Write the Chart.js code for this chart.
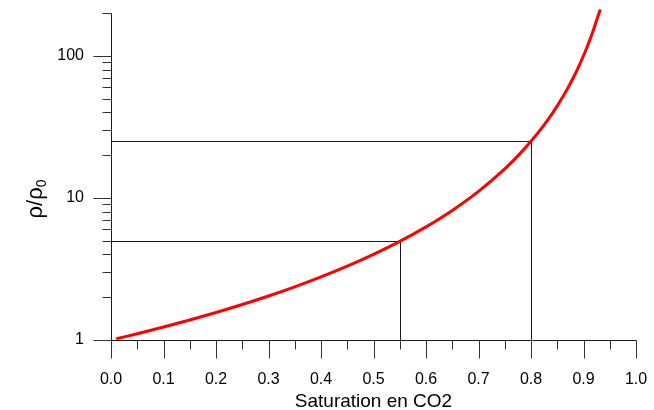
<!DOCTYPE html>
<html>
<head>
<meta charset="utf-8">
<script src="https://cdn.jsdelivr.net/npm/chart.js@4"></script>
<style>
  html, body { margin: 0; padding: 0; background: #fff; }
  #wrap { width: 654px; height: 410px; position: relative; }
</style>
</head>
<body>
<div id="wrap"><canvas id="c"></canvas></div>
<script>
// Resistivity ratio against CO2 saturation
const saturation = [0.01, 0.05, 0.10, 0.15, 0.20, 0.25, 0.30, 0.35, 0.40, 0.45, 0.50, 0.55,
                    0.60, 0.65, 0.70, 0.75, 0.775, 0.80, 0.825, 0.84, 0.85, 0.86, 0.87, 0.88,
                    0.89, 0.90, 0.91, 0.915, 0.92, 0.925, 0.932];
const ratio = [1.02, 1.108, 1.235, 1.384, 1.563, 1.778, 2.041, 2.367, 2.778, 3.306, 4.0, 4.938,
               6.25, 8.163, 11.11, 16.0, 19.75, 25.0, 32.65, 39.06, 44.44, 51.02, 59.17, 69.44,
               82.64, 100.0, 123.5, 138.4, 156.3, 177.8, 212.0];

// Reference readings marked with guide lines
const guideSat = [0.55, 0.80];
const guideRatio = [5, 25];

// Axis ticks
const xMajorTicks = [0, 0.1, 0.2, 0.3, 0.4, 0.5, 0.6, 0.7, 0.8, 0.9, 1.0];
const xMinorTicks = [0.05, 0.15, 0.25, 0.35, 0.45, 0.55, 0.65, 0.75, 0.85, 0.95];
const yMajorTicks = [1, 10, 100];
const yMinorTicks = [2, 3, 4, 5, 6, 7, 8, 9, 20, 30, 40, 50, 60, 70, 80, 90, 200];

const FONT = '"Liberation Sans", Arial, sans-serif';

const curve = saturation.map((s, i) => ({ x: s, y: ratio[i] }));

// Axis lines, tick marks and the guide lines to the reading points
const axesPlugin = {
  id: 'axesPlugin',
  beforeDatasetsDraw(chart) {
    const { ctx, scales: { x, y } } = chart;
    const px = v => Math.round(x.getPixelForValue(v)) + 0.5;
    const py = v => Math.round(y.getPixelForValue(v)) + 0.5;
    ctx.save();
    ctx.strokeStyle = '#1a1a1a';
    ctx.lineWidth = 1;
    ctx.beginPath();
    guideSat.forEach((s, i) => {
      ctx.moveTo(px(0), py(guideRatio[i]));
      ctx.lineTo(px(s), py(guideRatio[i]));
      ctx.lineTo(px(s), py(1));
    });
    ctx.stroke();
    ctx.restore();
  },
  afterDatasetsDraw(chart) {
    const { ctx, scales: { x, y } } = chart;
    const major = 18, minor = 9;
    const px = v => Math.round(x.getPixelForValue(v)) + 0.5;
    const py = v => Math.round(y.getPixelForValue(v)) + 0.5;
    ctx.save();
    ctx.strokeStyle = '#1a1a1a';
    ctx.lineWidth = 1;
    ctx.beginPath();
    const x0 = px(0);
    const y0 = py(1);
    ctx.moveTo(x0, py(200));
    ctx.lineTo(x0, y0);
    ctx.moveTo(x0, y0);
    ctx.lineTo(px(1), y0);
    ctx.stroke();
    ctx.strokeStyle = '#333';
    ctx.beginPath();
    xMajorTicks.forEach(v => { ctx.moveTo(px(v), y0); ctx.lineTo(px(v), y0 + major); });
    xMinorTicks.forEach(v => { ctx.moveTo(px(v), y0); ctx.lineTo(px(v), y0 + minor); });
    yMajorTicks.forEach(v => { ctx.moveTo(x0, py(v)); ctx.lineTo(x0 - major, py(v)); });
    yMinorTicks.forEach(v => { ctx.moveTo(x0, py(v)); ctx.lineTo(x0 - minor, py(v)); });
    ctx.stroke();
    ctx.restore();
  }
};

// Rotated y-axis title with a subscript zero
const yTitlePlugin = {
  id: 'yTitlePlugin',
  afterDraw(chart) {
    const { ctx } = chart;
    const main = 'ρ/ρ', sub = '0';
    const mainFont = '22px ' + FONT, subFont = '14px ' + FONT;
    ctx.save();
    ctx.font = mainFont;
    const w1 = ctx.measureText(main).width;
    ctx.font = subFont;
    const w2 = ctx.measureText(sub).width;
    const total = w1 + w2;
    ctx.translate(42, 199);
    ctx.rotate(-Math.PI / 2);
    ctx.fillStyle = '#000';
    ctx.textBaseline = 'alphabetic';
    ctx.textAlign = 'left';
    ctx.font = mainFont;
    ctx.fillText(main, -total / 2, 0);
    ctx.font = subFont;
    ctx.fillText(sub, -total / 2 + w1, 4);
    ctx.restore();
  }
};

const zeroPad = s => { s.paddingTop = 0; s.paddingBottom = 0; s.paddingLeft = 0; s.paddingRight = 0; };

new Chart(document.getElementById('c'), {
  type: 'scatter',
  data: {
    datasets: [{
      label: 'rho/rho0',
      data: curve,
      borderColor: '#ff0000',
      borderWidth: 3,
      pointRadius: 0,
      showLine: true,
      fill: false,
      cubicInterpolationMode: 'monotone',
      clip: false
    }]
  },
  options: {
    responsive: true,
    maintainAspectRatio: false,
    animation: false,
    devicePixelRatio: 1,
    layout: { autoPadding: false, padding: { top: 13, right: 18, left: 0, bottom: 0 } },
    plugins: { legend: { display: false }, tooltip: { enabled: false } },
    scales: {
      x: {
        type: 'linear',
        min: 0,
        max: 1,
        afterBuildTicks: s => { s.ticks = xMajorTicks.map(v => ({ value: v })); },
        afterFit: s => { s.height = 70; zeroPad(s); },
        grid: { display: false, drawTicks: false },
        border: { display: false },
        ticks: {
          padding: 30,
          color: '#000',
          font: { family: FONT, size: 16 },
          maxRotation: 0,
          autoSkip: false,
          callback: v => Number(v).toFixed(1)
        },
        title: {
          display: true,
          text: 'Saturation en CO2',
          color: '#000',
          font: { family: FONT, size: 19 },
          padding: { top: 0, bottom: -3 }
        }
      },
      y: {
        type: 'logarithmic',
        min: 1,
        max: 200,
        afterBuildTicks: s => { s.ticks = yMajorTicks.map(v => ({ value: v })); },
        afterFit: s => { s.width = 111; zeroPad(s); },
        grid: { display: false, drawTicks: false },
        border: { display: false },
        ticks: {
          padding: 27,
          color: '#000',
          font: { family: FONT, size: 16 },
          autoSkip: false,
          callback: v => String(v)
        }
      }
    }
  },
  plugins: [axesPlugin, yTitlePlugin]
});
</script>
</body>
</html>
